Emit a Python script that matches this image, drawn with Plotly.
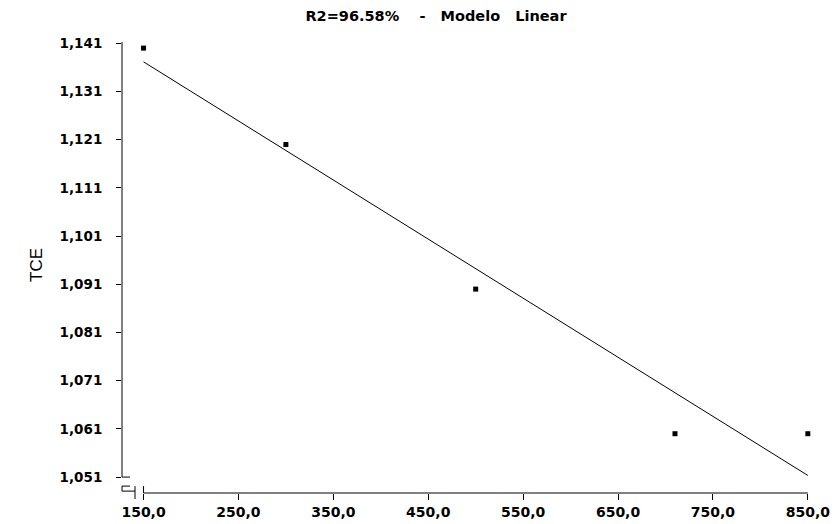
import numpy as np
import plotly.graph_objects as go

# ---- data ----
temperatura = [150, 300, 500, 710, 850]
tce = [1.140, 1.120, 1.090, 1.060, 1.060]
x_ticks = [150, 250, 350, 450, 550, 650, 750, 850]
x_ticktext = ["150,0", "250,0", "350,0", "450,0", "550,0", "650,0", "750,0", "850,0"]
y_ticks = [1.051, 1.061, 1.071, 1.081, 1.091, 1.101, 1.111, 1.121, 1.131, 1.141]
y_ticktext = ["1,051", "1,061", "1,071", "1,081", "1,091", "1,101", "1,111", "1,121", "1,131", "1,141"]
titulo = "R2=96.58%\u00a0\u00a0\u00a0\u00a0-\u00a0\u00a0\u00a0Modelo\u00a0\u00a0\u00a0Linear"

# linear fit from the data
slope, intercept = np.polyfit(temperatura, tce, 1)
fit_x = [min(temperatura), max(temperatura)]
fit_y = [slope * v + intercept for v in fit_x]

# ---- layout geometry (pixels) ----
W, H = 838, 524
L, R, T, B = 114, 810, 33, 485
X0 = 127.3
X1 = X0 + (R - L) / 0.949
Y1 = 1.141476
Y0 = Y1 - (B - T) / 4820.0

def px(x):
    return (x - L) / (R - L)

def py(y):
    return (B - y) / (B - T)

def xd(v):
    return L + (v - X0) / (X1 - X0) * (R - L)

def yd(v):
    return B - (v - Y0) / (Y1 - Y0) * (B - T)

tick_font = dict(family="DejaVu Sans", size=13.5, color="black", weight="bold")

fig = go.Figure()
fig.add_trace(go.Scatter(x=fit_x, y=fit_y, mode="lines",
                         line=dict(color="black", width=1), showlegend=False, hoverinfo="skip"))
fig.add_trace(go.Scatter(x=temperatura, y=tce, mode="markers",
                         marker=dict(symbol="square", size=5, color="black"),
                         showlegend=False, cliponaxis=False))

line_style = dict(color="black", width=1)
shapes = []
def seg(x0, y0, x1, y1):
    shapes.append(dict(type="line", xref="paper", yref="paper",
                       x0=px(x0), y0=py(y0), x1=px(x1), y1=py(y1), line=line_style))

y_min_px = yd(min(y_ticks))
x_start_px = xd(min(x_ticks))
x_end_px = xd(max(x_ticks))
# y axis line with break
seg(L, T + 1, L, y_min_px)
seg(L, y_min_px, L + 8, y_min_px)
seg(L, y_min_px + 9, L + 8, y_min_px + 9)
seg(L, y_min_px + 9, L, y_min_px + 14)
seg(L, y_min_px + 14, L + 13, y_min_px + 14)
seg(L + 13, y_min_px + 9, L + 13, B + 6)
# x axis line
seg(x_start_px, y_min_px + 9, x_start_px, B)
seg(x_start_px, B, x_end_px, B)

fig.update_layout(
    width=W, height=H,
    margin=dict(l=L, r=W - R, t=T, b=H - B, pad=0),
    paper_bgcolor="white", plot_bgcolor="white",
    shapes=shapes,
    title=dict(text=titulo, x=428 / W, xanchor="center", y=1 - 8 / H, yanchor="middle",
               font=dict(family="DejaVu Sans", size=14.5, color="black", weight="bold")),
    xaxis=dict(range=[X0, X1], tickvals=x_ticks, ticktext=x_ticktext,
               ticks="outside", ticklen=6, tickcolor="black", tickwidth=1,
               showgrid=False, zeroline=False, showline=False,
               tickfont=dict(family="DejaVu Sans", size=14, color="black", weight="bold"),
               ticklabelstandoff=0),
    yaxis=dict(range=[Y0, Y1], tickvals=y_ticks, ticktext=y_ticktext,
               ticks="outside", ticklen=5, tickcolor="black", tickwidth=1,
               showgrid=False, zeroline=False, showline=False,
               tickfont=tick_font, ticklabelstandoff=11),
    annotations=[dict(text="TCE", xref="paper", yref="paper", x=px(28), y=py(257),
                      showarrow=False, textangle=-90, xanchor="center", yanchor="middle",
                      font=dict(family="Liberation Sans", size=17, color="black"))],
)

fig.write_html("out.html")
